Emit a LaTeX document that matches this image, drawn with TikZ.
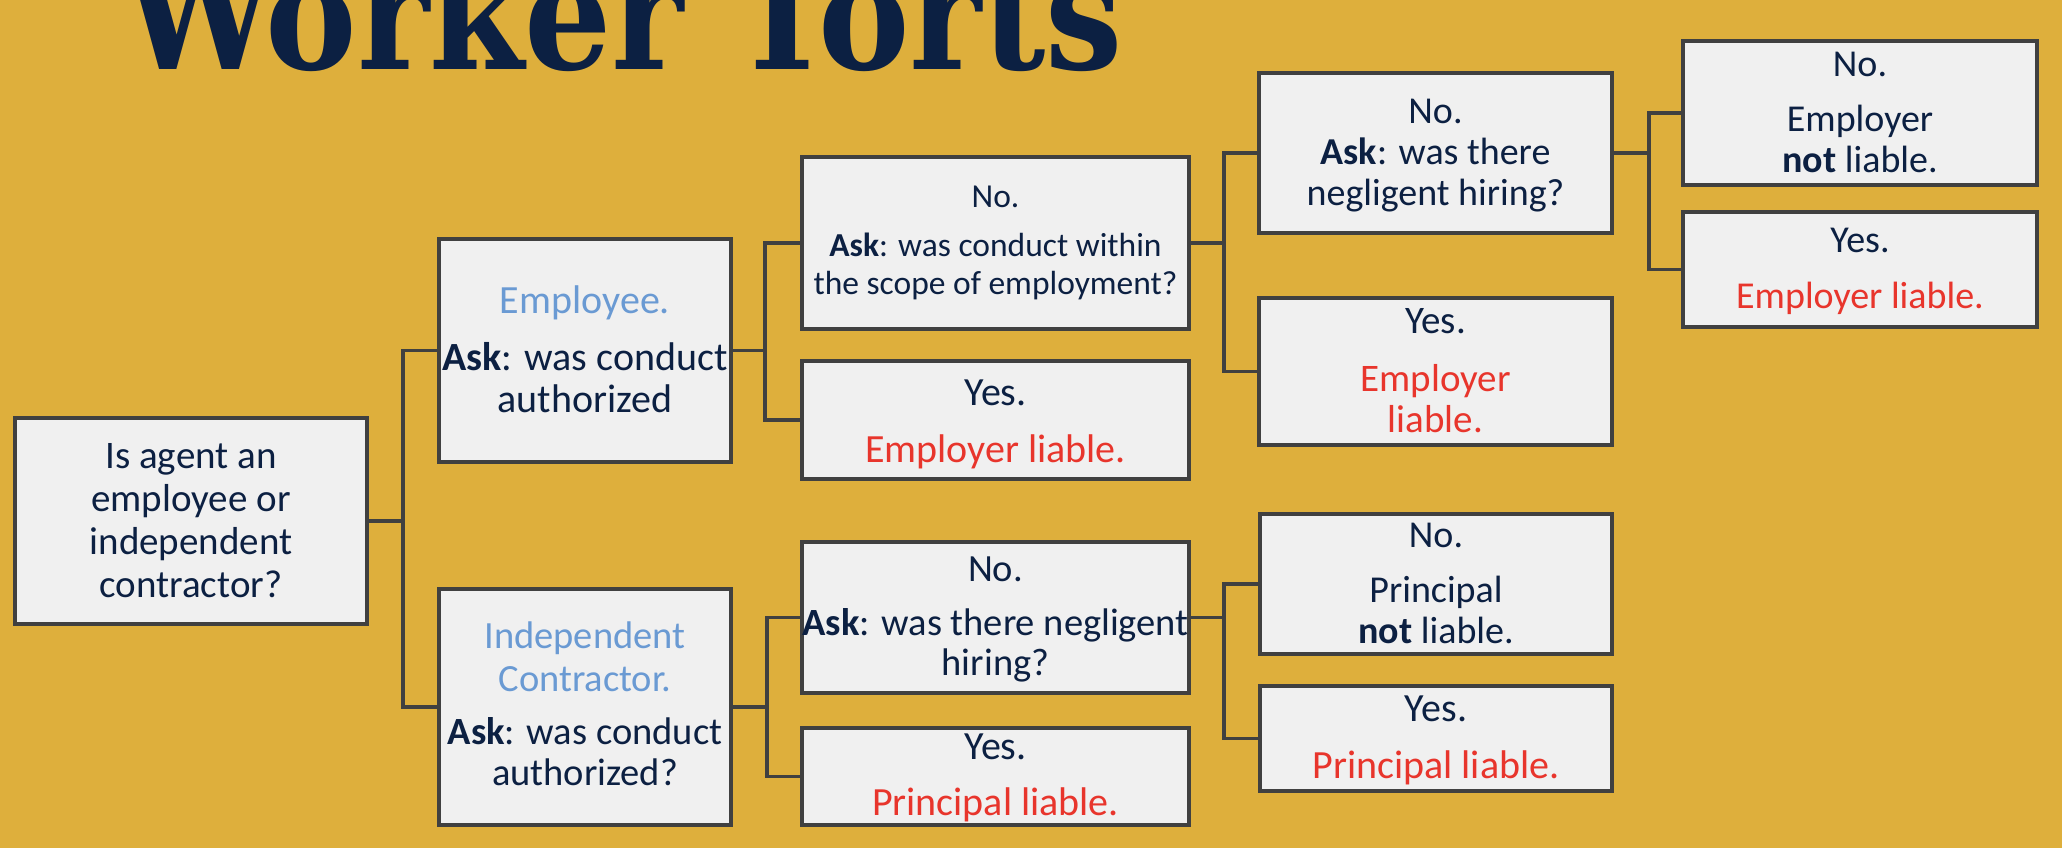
\documentclass[tikz,border=0pt]{standalone}
\usepackage{fontspec}
\usepackage{graphicx}
\usetikzlibrary{fit}
\setmainfont{Carlito}
\newfontfamily\titlefont{DejaVu Serif}

\definecolor{gold}{HTML}{DEAF3C}
\definecolor{navy}{HTML}{0C2042}
\definecolor{boxfill}{HTML}{F0F0F0}
\definecolor{boxline}{HTML}{404040}
\definecolor{lightblue}{HTML}{6A9AD3}
\definecolor{alertred}{HTML}{E8352C}

% one stacked text block: size, line pitch, lines (base anchor = first baseline)
\newcommand\txtblock[3]{\fontsize{#1}{#2}\selectfont\begin{tabular}[t]{@{}c@{}}#3\end{tabular}}
\newcommand\liab[1]{\textcolor{alertred}{#1}}
\newcommand\kind[1]{\textcolor{lightblue}{#1}}

\tikzset{
  box/.style={draw=boxline, fill=boxfill, line width=0.35mm, inner sep=0pt, rectangle},
  txt/.style={text=navy, inner sep=0pt, anchor=base},
  conn/.style={draw=boxline, line width=0.35mm},
}

\begin{document}
\begin{tikzpicture}[x=0.1mm, y=-0.1mm]
  \fill[gold] (0,0) rectangle (2062,848);
  \useasboundingbox (0,0) rectangle (2062,848);
  \clip (0,0) rectangle (2062,848);

  % heading (runs off the top edge)
  \node[anchor=base west, inner sep=0pt, text=navy] (title) at (122,70)
    {\resizebox{100mm}{11.8mm}{\titlefont\bfseries Worker Torts}};

  % boxes
  \node[box, fit={(15,418) (367,624)}]   (root)  {};
  \node[box, fit={(439,239) (731,462)}]  (emp)   {};
  \node[box, fit={(439,589) (731,825)}]  (ic)    {};
  \node[box, fit={(802,157) (1189,329)}] (scope) {};
  \node[box, fit={(802,361) (1189,479)}] (yesA)  {};
  \node[box, fit={(802,542) (1189,693)}] (negB)  {};
  \node[box, fit={(802,728) (1189,825)}] (yesB)  {};
  \node[box, fit={(1259,73) (1612,233)}] (negA)  {};
  \node[box, fit={(1259,298) (1612,445)}] (yesC) {};
  \node[box, fit={(1260,514) (1612,654)}] (noP)  {};
  \node[box, fit={(1260,686) (1612,791)}] (yesP) {};
  \node[box, fit={(1683,41) (2037,185)}]  (noE)  {};
  \node[box, fit={(1683,212) (2037,327)}] (yesE) {};

  % box texts
  \node[txt] (root-t) at (191,468)
    {\txtblock{3.9mm}{4.33mm}{Is agent an\\ employee or\\ independent\\ contractor?}};
  \node[txt] (emp-t) at (585,313)
    {\txtblock{4mm}{4.3mm}{\kind{Employee.}\\[1.4mm] \textbf{Ask}: was conduct\\ authorized}};
  \node[txt] (ic-t) at (585,648)
    {\txtblock{3.85mm}{4.2mm}{\kind{Independent}\\[0.1mm] \kind{Contractor.}\\[1.1mm] \textbf{Ask}: was conduct\\[-0.1mm] authorized?}};
  \node[txt] (scope-t) at (995.5,208)
    {\txtblock{3.35mm}{3.8mm}{No.\\[1.1mm] \textbf{Ask}: was conduct within\\ the scope of employment?}};
  \node[txt] (yesA-t) at (995.5,405)
    {\txtblock{4mm}{4.3mm}{Yes.\\[1.4mm] \liab{Employer liable.}}};
  \node[txt] (negB-t) at (995.5,581)
    {\txtblock{3.85mm}{4mm}{No.\\[1.4mm] \textbf{Ask}: was there negligent\\ hiring?}};
  \node[txt] (yesB-t) at (995.5,759)
    {\txtblock{4mm}{4.3mm}{Yes.\\[1.3mm] \liab{Principal liable.}}};
  \node[txt] (negA-t) at (1435.5,124)
    {\txtblock{3.8mm}{4.1mm}{No.\\ \textbf{Ask}: was there\\ negligent hiring?}};
  \node[txt] (yesC-t) at (1435.5,333)
    {\txtblock{3.9mm}{4.2mm}{Yes.\\[1.6mm] \liab{Employer}\\ \liab{liable.}}};
  \node[txt] (noP-t) at (1436,547)
    {\txtblock{3.8mm}{4.1mm}{No.\\[1.4mm] Principal\\ \textbf{not} liable.}};
  \node[txt] (yesP-t) at (1436,721)
    {\txtblock{4mm}{4.3mm}{Yes.\\[1.4mm] \liab{Principal liable.}}};
  \node[txt] (noE-t) at (1860,77)
    {\txtblock{3.8mm}{4.1mm}{No.\\[1.4mm] Employer\\ \textbf{not} liable.}};
  \node[txt] (yesE-t) at (1860,253)
    {\txtblock{3.8mm}{4.1mm}{Yes.\\[1.4mm] \liab{Employer liable.}}};

  % branch points
  \coordinate (j1) at (403,521);
  \coordinate (j2) at (765,350.5);
  \coordinate (j3) at (767,707);
  \coordinate (j4) at (1224,243);
  \coordinate (j5) at (1224,617.5);
  \coordinate (j6) at (1649,153);

  % connectors
  \draw[conn] (root.east) -- (root.east -| j1);
  \draw[conn] (emp.west) -| (j1) |- (ic.west);
  \draw[conn] (emp.east) -- (emp.east -| j2);
  \draw[conn] (scope.west) -| (j2) |- (yesA.west);
  \draw[conn] (ic.east) -- (ic.east -| j3);
  \draw[conn] (negB.west) -| (j3) |- (yesB.west);
  \draw[conn] (scope.east) -- (scope.east -| j4);
  \draw[conn] (negA.west) -| (j4) |- (yesC.west);
  \draw[conn] (negB.east) -- (negB.east -| j5);
  \draw[conn] (noP.west) -| (j5) |- (yesP.west);
  \draw[conn] (negA.east) -- (negA.east -| j6);
  \draw[conn] (noE.west) -| (j6) |- (yesE.west);
\end{tikzpicture}
\end{document}
